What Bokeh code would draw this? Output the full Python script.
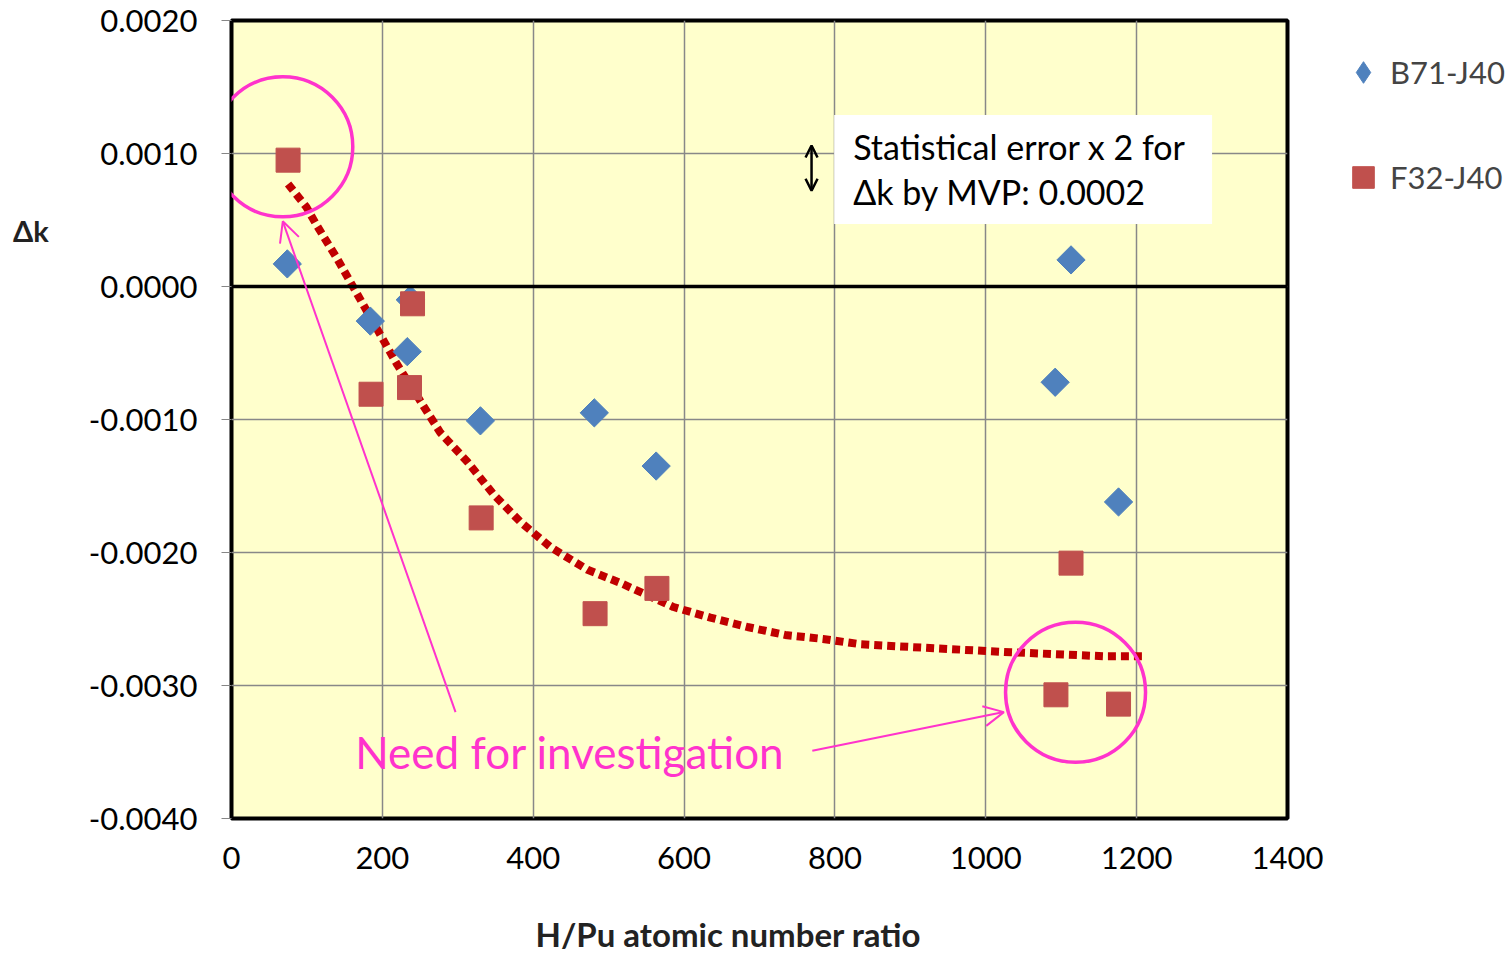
import math
from bokeh.plotting import figure
from bokeh.models import (Range1d, FixedTicker, NumeralTickFormatter, Span, Label, Title,
                          Arrow, OpenHead, Legend, LegendItem)
from bokeh.embed import file_html
from bokeh.resources import INLINE

# ---- data ----
b71_x = [74, 184, 237, 233, 330, 481, 563, 1092, 1113, 1176]
b71_y = [0.00017, -0.00026, -0.00010, -0.00049, -0.00101, -0.00095, -0.00135, -0.00072, 0.00020, -0.00162]

f32_x = [75, 185, 240, 236, 331, 482, 564, 1113, 1093, 1176]
f32_y = [0.00095, -0.00081, -0.00013, -0.00076, -0.00174, -0.00246, -0.00227, -0.00208, -0.00307, -0.00314]

trend_x = [75, 99, 113, 140, 167, 193, 220, 248, 277, 313, 347, 383, 423, 472, 516,
           586, 635, 684, 734, 784, 834, 931, 1033, 1157, 1210]
trend_y = [0.00077, 0.00060, 0.00046, 0.00021, -0.00006, -0.00032, -0.00059, -0.00084,
           -0.00110, -0.00132, -0.00156, -0.00177, -0.00196, -0.00213, -0.00223,
           -0.00241, -0.00249, -0.00256, -0.00262, -0.00265, -0.00269, -0.00272,
           -0.00275, -0.00278, -0.00278]

x_ticks = [0, 200, 400, 600, 800, 1000, 1200, 1400]
y_ticks = [-0.004, -0.003, -0.002, -0.001, 0.0, 0.001, 0.002]

series_names = ["B71-J40", "F32-J40"]
x_title = "H/Pu atomic number ratio"
y_title = "\u0394k"

# annotation anchors (data coordinates)
circle_x = [68, 1119]
circle_y = [0.00105, -0.00305]
arrow1 = (297, -0.00320, 68, 0.00049)
arrow2 = (770, -0.00349, 1024, -0.00320)
err_arrow = (769, 0.00106, 769, 0.00072)
box = (799, 1300, 0.00047, 0.00129)
note_lines = ["Statistical error x 2 for", "\u0394k by MVP: 0.0002"]
callout = "Need for investigation"

FONT = "Lato"
MAGENTA = "#FF33CC"
BLUE = "#4F81BD"
RED = "#C0504D"

p = figure(width=1510, height=961, output_backend="svg", toolbar_location=None,
           x_range=Range1d(0, 1400), y_range=Range1d(-0.004, 0.002),
           frame_width=1056, frame_height=798,
           min_border_left=231, min_border_top=20, min_border_right=223, min_border_bottom=143)

p.background_fill_color = "#FFFFCC"
p.border_fill_color = "white"
p.outline_line_color = "black"
p.outline_line_width = 4

# main axes
p.xaxis.ticker = FixedTicker(ticks=x_ticks)
p.yaxis.ticker = FixedTicker(ticks=y_ticks)
p.xaxis.formatter = NumeralTickFormatter(format="0")
p.yaxis.formatter = NumeralTickFormatter(format="0.0000")
for ax in (p.xaxis[0], p.yaxis[0]):
    ax.axis_line_color = None
    ax.minor_tick_line_color = None
    ax.major_label_text_font = FONT
    ax.major_label_text_font_size = "31px"
    ax.major_label_text_color = "black"
    ax.major_tick_line_color = "#868686"
    ax.major_tick_in = 0
p.xaxis.major_tick_out = 0
p.xaxis.major_label_standoff = 28
p.yaxis.major_tick_out = 10
p.yaxis.major_label_standoff = 24

# y title: horizontal, lifted toward the top like the original
p.yaxis.axis_label = y_title + "\n" * 9
p.yaxis.axis_label_orientation = "horizontal"
p.yaxis.axis_label_text_font = FONT
p.yaxis.axis_label_text_font_style = "bold"
p.yaxis.axis_label_text_font_size = "29px"
p.yaxis.axis_label_text_color = "#222222"
p.yaxis.axis_label_standoff = 37

# x title
p.add_layout(Title(text=x_title, align="left", offset=304, standoff=81,
                   text_font=FONT, text_font_style="bold", text_font_size="33px",
                   text_color="#222222"), "below")

p.grid.grid_line_color = "#888888"
p.grid.grid_line_width = 1.5

# zero line
p.add_layout(Span(location=0, dimension="width", line_color="black", line_width=3.5))

# trend line
p.line(trend_x, trend_y, line_color="#C00000", line_width=8, line_dash="8 5", line_cap="butt")

# series: B71 as a diamond (key, hidden beneath) and a 45-degree square on top
r_b_key = p.scatter(b71_x, b71_y, marker="diamond", size=22, fill_color=BLUE, line_color=BLUE)
r_b = p.scatter(b71_x, b71_y, marker="square", angle=math.pi / 4, size=20,
                fill_color=BLUE, line_color=BLUE)
r_f = p.scatter(f32_x, f32_y, marker="square", size=24,
                fill_color=RED, line_color=RED)

# white note box
p.quad(left=[box[0]], right=[box[1]], bottom=[box[2]], top=[box[3]],
       fill_color="white", line_color=None)
p.add_layout(Label(x=box[0], y=box[3], x_offset=19, y_offset=-32, text=note_lines[0],
                   text_font=FONT, text_font_size="34px", text_baseline="middle", text_color="black"))
p.add_layout(Label(x=box[0], y=box[3], x_offset=19, y_offset=-77, text=note_lines[1],
                   text_font=FONT, text_font_size="34px", text_baseline="middle", text_color="black"))

# double arrow (statistical error)
p.add_layout(Arrow(x_start=err_arrow[0], y_start=err_arrow[1], x_end=err_arrow[2], y_end=err_arrow[3],
                   start=OpenHead(size=12, line_width=2.5, line_color="black"),
                   end=OpenHead(size=12, line_width=2.5, line_color="black"),
                   line_color="black", line_width=2.5))

# magenta circles
p.scatter(circle_x, circle_y, marker="circle", size=140, fill_alpha=0,
          line_color=MAGENTA, line_width=3.5)

# magenta arrows
for a in (arrow1, arrow2):
    p.add_layout(Arrow(x_start=a[0], y_start=a[1], x_end=a[2], y_end=a[3],
                       end=OpenHead(size=20, line_width=2, line_color=MAGENTA),
                       line_color=MAGENTA, line_width=2))

p.add_layout(Label(x=164, y=-0.00350, text=callout, text_font=FONT, text_font_size="44px",
                   text_color=MAGENTA, text_baseline="middle", text_align="left"))

# legend (outside to the right)
legend = Legend(items=[LegendItem(label=series_names[0], renderers=[r_b_key]),
                       LegendItem(label=series_names[1], renderers=[r_f])],
                location=(49, 614), orientation="vertical",
                glyph_width=54, glyph_height=54, label_height=26, spacing=51,
                padding=0, margin=40, label_standoff=0,
                label_text_font=FONT, label_text_font_size="31px",
                border_line_alpha=0, background_fill_alpha=0)
p.add_layout(legend, "right")

open("out.html", "w").write(file_html(p, INLINE))
